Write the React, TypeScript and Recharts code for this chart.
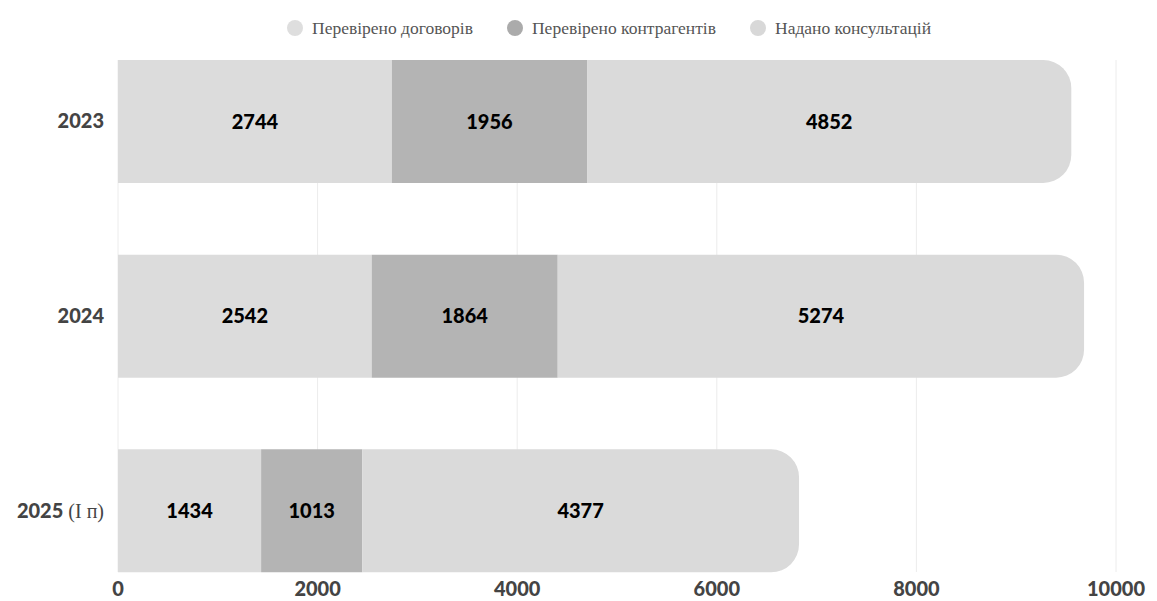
import React from "react";
import { BarChart, Bar, XAxis, YAxis, CartesianGrid, LabelList, Legend } from "recharts";

const categories = ["2023", "2024", "2025 (І п)"];
const contracts = [2744, 2542, 1434];
const counterparties = [1956, 1864, 1013];
const consultations = [4852, 5274, 4377];
const xTicks = [0, 2000, 4000, 6000, 8000, 10000];
const seriesNames = ["Перевірено договорів", "Перевірено контрагентів", "Надано консультацій"];
const seriesColors = ["#dcdcdc", "#b4b4b4", "#dadada"];
const legendColors = ["#dedede", "#ababab", "#d8d8d8"];

const data = categories.map((c, i) => ({
  name: c,
  a: contracts[i],
  b: counterparties[i],
  c: consultations[i],
}));

const SANS = "Lato, 'Noto Sans', sans-serif";
const SERIF = "'Liberation Serif', 'DejaVu Serif', serif";

const YTick = (props: any) => {
  const { x, y, payload } = props;
  const v: string = payload.value;
  const m = v.match(/^(\d+)(.*)$/);
  const main = m ? m[1] : v;
  const rest = m ? m[2] : "";
  return (
    <text x={x - 6} y={y} dy={7} textAnchor="end" fill="#444" fontSize={20} fontFamily={SANS} fontWeight={900}>
      <tspan>{main}</tspan>
      {rest ? (
        <tspan fontFamily={SERIF} fontWeight={400} fontSize={20}>{rest}</tspan>
      ) : null}
    </text>
  );
};

const LegendContent = () => (
  <div style={{ display: "flex", justifyContent: "flex-start", alignItems: "center", height: 24, fontFamily: SERIF, fontSize: 17.5, color: "#555", paddingLeft: 279 }}>
    {seriesNames.map((n, i) => (
      <div key={n} style={{ display: "flex", alignItems: "center", marginRight: i < 2 ? 34 : 0 }}>
        <span style={{ width: 16, height: 16, borderRadius: "50%", background: legendColors[i], display: "inline-block", marginRight: 9 }} />
        <span>{n}</span>
      </div>
    ))}
  </div>
);

const labelStyle = { fill: "#000", fontSize: 20, fontWeight: 900, fontFamily: SANS };

export default function App() {
  return (
    <BarChart
      width={1141}
      height={593}
      data={data}
      layout="vertical"
      margin={{ top: 28, right: 33, bottom: 0, left: 0 }}
      barGap={0}
    >
      <Legend verticalAlign="top" align="center" content={<LegendContent />} wrapperStyle={{ top: 8, left: 0, width: 1141, height: 24 }} />
      <CartesianGrid horizontal={false} stroke="#ececec" />
      <XAxis
        type="number"
        domain={[0, 10000]}
        ticks={xTicks}
        axisLine={false}
        tickLine={false}
        height={29}
        tick={{ fill: "#444", fontSize: 20, fontWeight: 900, fontFamily: SANS, dy: 2 }}
      />
      <YAxis
        type="category"
        dataKey="name"
        width={110}
        axisLine={false}
        tickLine={false}
        padding={{ top: -36, bottom: -36 }}
        tick={<YTick />}
      />
      <Bar dataKey="a" stackId="s" fill={seriesColors[0]} barSize={123} isAnimationActive={false}>
        <LabelList dataKey="a" position="center" style={labelStyle} />
      </Bar>
      <Bar dataKey="b" stackId="s" fill={seriesColors[1]} barSize={123} isAnimationActive={false}>
        <LabelList dataKey="b" position="center" style={labelStyle} />
      </Bar>
      <Bar dataKey="c" stackId="s" fill={seriesColors[2]} barSize={123} radius={[0, 28, 28, 0]} isAnimationActive={false}>
        <LabelList dataKey="c" position="center" style={labelStyle} />
      </Bar>
    </BarChart>
  );
}
